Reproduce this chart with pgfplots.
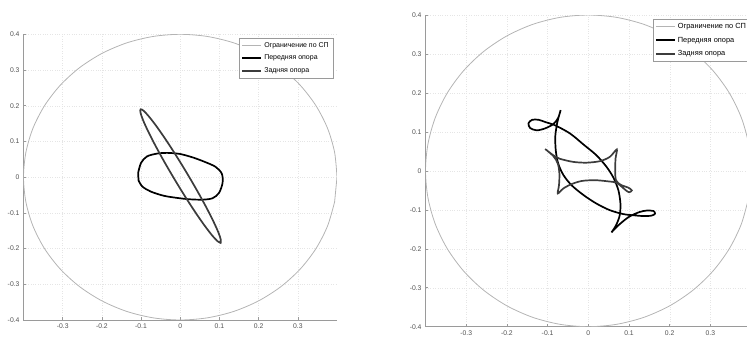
\documentclass[border=0pt]{standalone}
\usepackage{pgfplots}
\pgfplotsset{compat=1.18}
\usepackage{fontspec}
\setmainfont{Liberation Sans}
\definecolor{circ}{HTML}{B4B4B4}
\definecolor{reargray}{HTML}{3C3C3C}
\definecolor{axgray}{HTML}{9A9A9A}
\definecolor{lblgray}{HTML}{505050}

\pgfplotstableread{
x y
0.4 0
0.3939 0.0695
0.3759 0.1368
0.3464 0.2
0.3064 0.2571
0.2571 0.3064
0.2 0.3464
0.1368 0.3759
0.0695 0.3939
0 0.4
-0.0695 0.3939
-0.1368 0.3759
-0.2 0.3464
-0.2571 0.3064
-0.3064 0.2571
-0.3464 0.2
-0.3759 0.1368
-0.3939 0.0695
-0.4 0
-0.3939 -0.0695
-0.3759 -0.1368
-0.3464 -0.2
-0.3064 -0.2571
-0.2571 -0.3064
-0.2 -0.3464
-0.1368 -0.3759
-0.0695 -0.3939
0 -0.4
0.0695 -0.3939
0.1368 -0.3759
0.2 -0.3464
0.2571 -0.3064
0.3064 -0.2571
0.3464 -0.2
0.3759 -0.1368
0.3939 -0.0695
}\circtable

\pgfplotsset{
  chartstyle/.style={
    scale only axis,
    xmin=-0.4, xmax=0.4, ymin=-0.4, ymax=0.4,
    axis x line*=bottom, axis y line*=left,
    axis line style={axgray, line width=0.6pt},
    xtick={-0.3,-0.2,-0.1,0,0.1,0.2,0.3},
    xticklabels={-0.3,-0.2,-0.1,0,0.1,0.2,0.3},
    ytick={-0.4,-0.3,-0.2,-0.1,0,0.1,0.2,0.3,0.4},
    yticklabels={-0.4,-0.3,-0.2,-0.1,0,0.1,0.2,0.3,0.4},
    grid=major,
    major grid style={gray!20, dotted, line width=0.4pt},
    tick style={axgray, line width=0.5pt},
    tick align=inside,
    major tick length=2.5pt,
    tick label style={font=\fontsize{6.8}{7.5}\selectfont, text=lblgray},
    xticklabel style={yshift=-0.5pt},
    yticklabel style={xshift=-0.5pt},
    legend cell align=left,
    legend image code/.code={\draw[##1] (0pt,0pt) -- (19pt,0pt);},
  },
  circstyle/.style={circ, line width=0.8pt, smooth, no markers},
  frontstyle/.style={black, line width=1.7pt, smooth, tension=0.5, no markers},
  rearstyle/.style={reargray, line width=1.7pt, smooth, tension=0.5, no markers},
}

\begin{document}
\begin{tikzpicture}[x=1pt,y=1pt]
\useasboundingbox (0,0) rectangle (747,337);
\clip (0,0) rectangle (747,337);

% ---------------- left chart ----------------
\begin{axis}[chartstyle,
  at={(23.5pt,17pt)}, anchor=south west,
  width=313.5pt, height=285.7pt,
  legend style={at={(0.987,0.987)}, anchor=north east, draw=axgray, fill=white,
    font=\fontsize{7}{8}\selectfont, inner sep=2pt, row sep=2.5pt},
]
\addplot[circstyle] table {\circtable} -- cycle;
\addlegendentry{Ограничение по СП}
\addplot[frontstyle] coordinates {
(-0.1075,0.012) (-0.100,0.040) (-0.085,0.058) (-0.059,0.066) (-0.034,0.068)
(-0.001,0.065) (0.0325,0.055) (0.062,0.043) (0.090,0.029) (0.106,0.010)
(0.108,-0.016) (0.099,-0.044) (0.0825,-0.059) (0.0575,-0.063) (0.024,-0.062)
(-0.009,-0.058) (-0.0425,-0.052) (-0.076,-0.040) (-0.097,-0.026) (-0.1065,-0.009)
} -- cycle;
\addlegendentry{Передняя опора}
\addplot[rearstyle] coordinates {
(0.103,-0.184) (0.1036,-0.1754) (0.0973,-0.1547) (0.0843,-0.1231) (0.0657,-0.0830)
(0.0427,-0.0371) (0.0168,0.0116) (-0.0101,0.0597) (-0.0363,0.1040) (-0.0599,0.1413)
(-0.0795,0.1693) (-0.0934,0.1858) (-0.101,0.190) (-0.1016,0.1814) (-0.0953,0.1607)
(-0.0823,0.1291) (-0.0637,0.0890) (-0.0407,0.0431) (-0.0148,-0.0056) (0.0121,-0.0537)
(0.0383,-0.0980) (0.0619,-0.1353) (0.0815,-0.1633) (0.0954,-0.1798)
} -- cycle;
\addlegendentry{Задняя опора}
\end{axis}

% ---------------- right chart ----------------
\begin{axis}[chartstyle,
  at={(425.5pt,10.3pt)}, anchor=south west,
  width=325.6pt, height=311.7pt,
  legend style={at={(0.997,0.987)}, anchor=north east, draw=axgray, fill=white,
    font=\fontsize{7.4}{8.4}\selectfont, inner sep=2pt, row sep=3pt},
]
\addplot[circstyle] table {\circtable} -- cycle;
\addlegendentry{Ограничение по СП}
\addplot[frontstyle] coordinates {
(-0.068,0.156) (-0.076,0.125) (-0.081,0.090) (-0.080,0.053) (-0.074,0.019)
(-0.061,-0.011) (-0.041,-0.037) (-0.012,-0.062) (0.020,-0.084) (0.053,-0.101)
(0.086,-0.111) (0.111,-0.114) (0.135,-0.116) (0.155,-0.115) (0.164,-0.110)
(0.160,-0.103) (0.143,-0.102) (0.125,-0.106) (0.100,-0.118) (0.078,-0.136)
(0.062,-0.152) (0.057,-0.158) (0.068,-0.140) (0.077,-0.115) (0.079,-0.085)
(0.074,-0.050) (0.062,-0.018) (0.045,0.010) (0.020,0.040) (-0.010,0.066)
(-0.045,0.096) (-0.082,0.117) (-0.105,0.125) (-0.122,0.131) (-0.138,0.131)
(-0.147,0.122) (-0.143,0.110) (-0.127,0.104) (-0.106,0.109) (-0.086,0.120)
(-0.074,0.136) (-0.068,0.156)
};
\addlegendentry{Передняя опора}
\addplot[rearstyle] coordinates {
(-0.106,0.056) (-0.086,0.040) (-0.070,0.031) (-0.037,0.023) (-0.004,0.021)
(0.029,0.025) (0.053,0.036) (0.070,0.055) (0.067,0.032) (0.066,0.002)
(0.068,-0.024) (0.080,-0.036) (0.098,-0.043) (0.107,-0.050) (0.100,-0.055)
(0.090,-0.048) (0.070,-0.031) (0.049,-0.027) (0.016,-0.024) (-0.016,-0.026)
(-0.041,-0.034) (-0.061,-0.045) (-0.075,-0.058) (-0.072,-0.037) (-0.071,-0.007)
(-0.075,0.019) (-0.086,0.038) (-0.106,0.056)
};
\addlegendentry{Задняя опора}
\end{axis}
\end{tikzpicture}
\end{document}
